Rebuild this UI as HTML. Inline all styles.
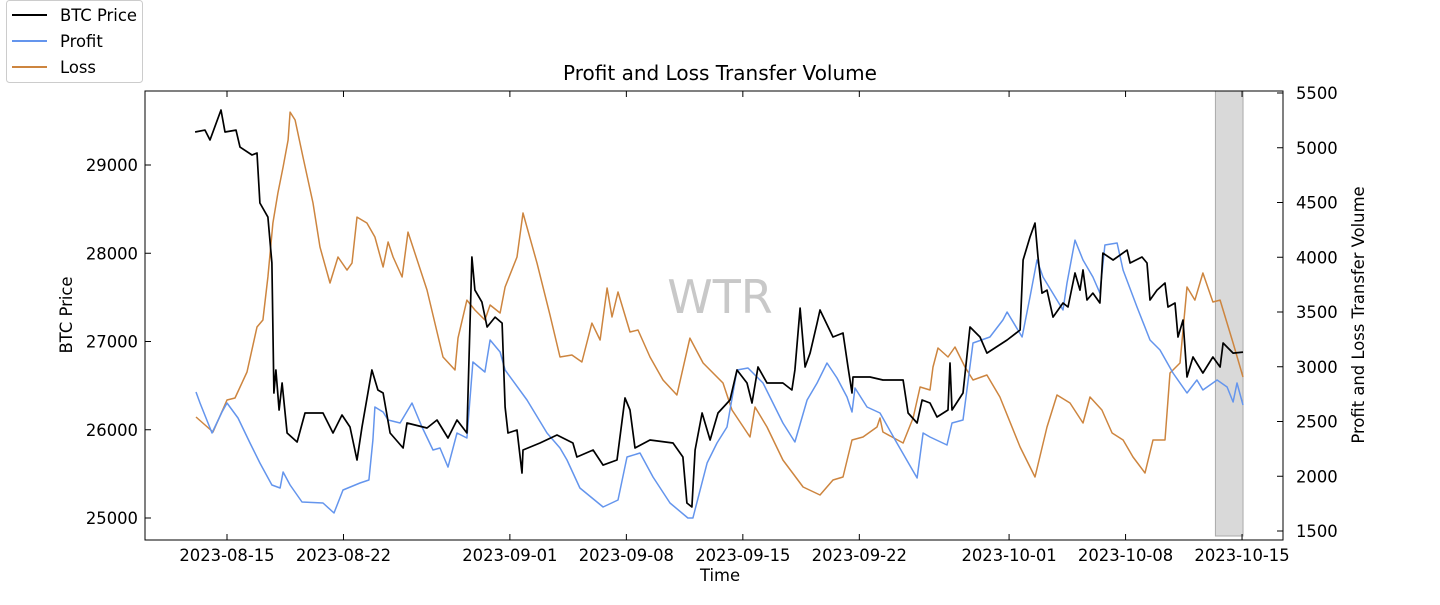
<!DOCTYPE html>
<html><head><meta charset="utf-8"><style>
body{margin:0;background:#fff;}
svg text{font-family:"DejaVu Sans","Liberation Sans",sans-serif;}
</style></head><body>
<svg id="chart" width="1440" height="600" viewBox="0 0 1440 600" xmlns="http://www.w3.org/2000/svg">
<rect x="0" y="0" width="1440" height="600" fill="#fff"/>
<g id="plot"></g>
</svg>
<script>
const xTickLabels=["2023-08-15","2023-08-22","2023-09-01","2023-09-08","2023-09-15","2023-09-22","2023-10-01","2023-10-08","2023-10-15"];
const xTickDays=[0,7,17,24,31,38,47,54,61];
const leftTicks=[25000,26000,27000,28000,29000];
const rightTicks=[1500,2000,2500,3000,3500,4000,4500,5000,5500];
const shadeDays=[59.4,61.06];
const btcDays=[-1.92,-1.32,-1.02,-0.36,-0.12,0.54,0.78,1.5,1.8,1.98,2.46,2.7,2.82,2.94,3.13,3.31,3.61,4.21,4.69,5.77,6.37,6.91,7.39,7.81,8.11,8.71,9.07,9.38,9.8,10.58,10.82,12.02,12.62,13.28,13.82,14.42,14.72,14.9,15.32,15.63,16.11,16.53,16.71,16.89,17.43,17.73,17.79,18.81,19.83,20.79,21.03,22.0,22.6,23.44,23.92,24.22,24.52,25.42,26.8,27.4,27.64,27.94,28.13,28.55,29.03,29.51,30.23,30.65,31.25,31.55,31.91,32.45,33.41,33.95,34.13,34.44,34.74,35.04,35.46,35.64,36.42,37.02,37.32,37.56,37.62,38.64,39.42,40.63,40.93,41.47,41.77,42.25,42.67,43.33,43.45,43.57,44.23,44.65,45.25,45.67,46.88,47.66,47.84,48.26,48.56,48.74,48.98,49.28,49.64,50.24,50.54,50.96,51.26,51.44,51.68,52.04,52.46,52.64,53.25,54.09,54.27,54.99,55.29,55.47,55.89,56.37,56.55,56.97,57.15,57.45,57.69,58.05,58.65,59.25,59.68,59.86,60.46,61.06];
const btcPrice=[29374,29396,29283,29623,29374,29396,29203,29113,29136,28569,28410,27889,26416,26677,26224,26530,25963,25861,26190,26190,25963,26167,26031,25657,26031,26677,26450,26416,25963,25793,26076,26020,26110,25906,26110,25963,27957,27583,27447,27164,27277,27209,26258,25963,25997,25510,25770,25850,25940,25850,25691,25770,25600,25657,26360,26224,25793,25884,25850,25691,25170,25125,25770,26190,25884,26190,26337,26677,26530,26303,26711,26530,26530,26450,26677,27379,26711,26869,27209,27357,27051,27096,26711,26416,26598,26598,26564,26564,26190,26076,26337,26303,26144,26224,26756,26224,26416,27164,27051,26869,27017,27130,27923,28184,28342,27957,27549,27583,27277,27436,27391,27776,27583,27810,27470,27549,27436,28002,27923,28036,27889,27957,27889,27470,27583,27663,27391,27436,27051,27243,26598,26824,26643,26824,26711,26983,26869,26880];
const profitDays=[-1.86,-1.62,-0.9,-0.3,0,0.66,1.38,1.98,2.7,3.19,3.37,3.79,4.51,5.77,6.43,6.97,7.99,8.53,8.77,8.89,9.38,9.68,10.4,11.12,11.72,12.38,12.8,13.28,13.82,14.42,14.78,15.5,15.81,16.41,16.71,18.03,19.23,20.01,20.43,21.21,22.6,23.5,24.04,24.82,25.6,26.62,27.7,28.0,28.85,29.45,30.05,30.65,31.31,32.21,33.41,34.13,34.86,35.46,36.06,36.66,37.26,37.56,37.74,38.46,39.24,40.26,41.47,41.83,42.25,43.27,43.57,44.23,44.83,45.85,46.63,46.88,47.78,48.26,48.68,49.04,50.24,50.48,50.96,51.44,52.04,52.46,52.76,53.49,53.85,54.69,55.47,56.07,56.85,57.69,58.29,58.65,59.5,60.1,60.46,60.7,61.06];
const profitVol=[2769,2669,2395,2587,2669,2532,2304,2121,1920,1893,2039,1920,1765,1756,1664,1874,1938,1966,2331,2632,2587,2514,2486,2669,2450,2240,2258,2084,2395,2349,3043,2952,3244,3135,2970,2696,2395,2258,2148,1893,1719,1783,2176,2212,1993,1756,1619,1619,2121,2304,2450,2970,2989,2852,2486,2313,2696,2852,3034,2897,2724,2587,2806,2632,2578,2304,1984,2395,2358,2285,2486,2514,3217,3272,3427,3500,3272,3637,3975,3820,3518,3765,4157,3975,3820,3673,4112,4130,3883,3546,3244,3153,2943,2760,2879,2788,2879,2815,2678,2852,2651];
const lossDays=[-1.86,-0.84,0,0.48,1.2,1.8,2.16,2.46,2.76,3.06,3.37,3.67,3.79,4.09,4.57,5.17,5.59,6.19,6.67,7.21,7.51,7.81,8.41,8.89,9.38,9.68,9.98,10.52,10.88,12.02,12.98,13.7,13.88,14.42,14.9,15.5,15.81,16.41,16.71,17.43,17.79,18.63,19.41,20.01,20.73,21.33,21.93,22.42,22.84,23.14,23.5,24.22,24.7,25.42,26.2,27.04,27.82,28.61,29.81,30.35,31.43,31.73,32.45,33.41,34.62,35.64,36.42,37.02,37.56,38.22,39.06,39.24,39.42,40.63,41.23,41.65,42.25,42.43,42.73,43.33,43.75,44.35,44.83,45.67,46.45,47.66,48.56,49.28,49.88,50.66,51.44,51.86,52.58,53.19,53.85,54.45,55.17,55.65,56.37,56.67,57.27,57.69,58.17,58.65,59.25,59.68,60.46,61.06];
const lossVol=[2541,2404,2696,2715,2952,3363,3427,3820,4313,4587,4824,5071,5326,5253,4915,4495,4093,3765,4002,3883,3947,4367,4313,4185,3911,4139,4002,3820,4230,3701,3089,2970,3262,3609,3518,3427,3564,3491,3728,4002,4404,3947,3472,3089,3107,3043,3399,3244,3719,3454,3683,3317,3336,3089,2879,2742,3262,3034,2852,2605,2358,2632,2450,2148,1902,1829,1966,1993,2331,2358,2450,2532,2404,2304,2532,2815,2788,2998,3171,3089,3180,2998,2879,2925,2724,2267,1993,2450,2742,2669,2486,2724,2605,2395,2331,2176,2030,2331,2331,2943,3034,3728,3609,3856,3591,3609,3217,2906];

const NS="http://www.w3.org/2000/svg";
const L=145,R=1283,T=91,B=540;
function xs(d){return 227+d*16.64;}
function yl(v){return 518-(v-25000)*0.08825;}
function yr(v){return 531-(v-1500)*0.1095;}
const plot=document.getElementById('plot');
function mk(tag,attrs,parent){const e=document.createElementNS(NS,tag);for(const k in attrs)e.setAttribute(k,attrs[k]);(parent||plot).appendChild(e);return e;}

const sh=mk('rect',{x:xs(shadeDays[0]),y:T,width:xs(shadeDays[1])-xs(shadeDays[0]),height:536-T,fill:'#d9d9d9',stroke:'#aaa','stroke-width':1});



const wm=mk('text',{x:720,y:313,'font-size':46,fill:'#c8c8c8','text-anchor':'middle'});
wm.textContent='WTR';



function line(days,vals,sc,color,w,name){
  let d='';for(let i=0;i<days.length;i++){d+=(i?'L':'M')+xs(days[i]).toFixed(1)+','+sc(vals[i]).toFixed(1);}
  const p=mk('path',{d:d,fill:'none',stroke:color,'stroke-width':w,'stroke-linejoin':'round'});
  
  
}
line(lossDays,lossVol,yr,'#cd853f',1.5,'loss-line');
line(profitDays,profitVol,yr,'#6495ed',1.5,'profit-line');
line(btcDays,btcPrice,yl,'#000',1.7,'btc-price-line');

const fr=mk('rect',{x:L,y:T,width:R-L,height:B-T,fill:'none',stroke:'#000','stroke-width':1});



xTickDays.forEach((d,i)=>{
  const x=xs(d);
  mk('line',{x1:x,y1:B,x2:x,y2:B-6,stroke:'#000'});
  mk('line',{x1:x,y1:T,x2:x,y2:T+6,stroke:'#000'});
  const t=mk('text',{x:x,y:B+21,'font-size':16.4,'text-anchor':'middle',fill:'#000'});
  t.textContent=xTickLabels[i];
  
  
});
leftTicks.forEach(v=>{
  const y=yl(v);
  mk('line',{x1:L,y1:y,x2:L+6,y2:y,stroke:'#000'});
  const t=mk('text',{x:L-7,y:y+6,'font-size':16.4,'text-anchor':'end',fill:'#000'});
  t.textContent=v;
  
  
});
rightTicks.forEach(v=>{
  const y=yr(v);
  mk('line',{x1:R,y1:y,x2:R-6,y2:y,stroke:'#000'});
  const t=mk('text',{x:R+13,y:y+6,'font-size':16.4,'text-anchor':'start',fill:'#000'});
  t.textContent=v;
  
  
});
</script>
<svg style="position:absolute;left:0;top:0" width="1440" height="600" xmlns="http://www.w3.org/2000/svg">
<text x="720" y="80" font-size="20" text-anchor="middle" fill="#000">Profit and Loss Transfer Volume</text>
<text x="720" y="581" font-size="16.4" text-anchor="middle" fill="#000">Time</text>
<text transform="translate(72,315) rotate(-90)" font-size="16.4" text-anchor="middle" fill="#000">BTC Price</text>
<text transform="translate(1364,315) rotate(-90)" font-size="16.4" text-anchor="middle" fill="#000">Profit and Loss Transfer Volume</text>
<g>
<rect x="6.5" y="0.5" width="136" height="82" rx="3" fill="#fff" stroke="#ccc"/>
<line x1="12" y1="15" x2="47" y2="15" stroke="#000" stroke-width="2"/>
<text x="60" y="21" font-size="16.4" fill="#000">BTC Price</text>
<line x1="12" y1="41" x2="47" y2="41" stroke="#6495ed" stroke-width="2"/>
<text x="60" y="47" font-size="16.4" fill="#000">Profit</text>
<line x1="12" y1="67" x2="47" y2="67" stroke="#cd853f" stroke-width="2"/>
<text x="60" y="73" font-size="16.4" fill="#000">Loss</text>
</g>
</svg>
</body></html>
